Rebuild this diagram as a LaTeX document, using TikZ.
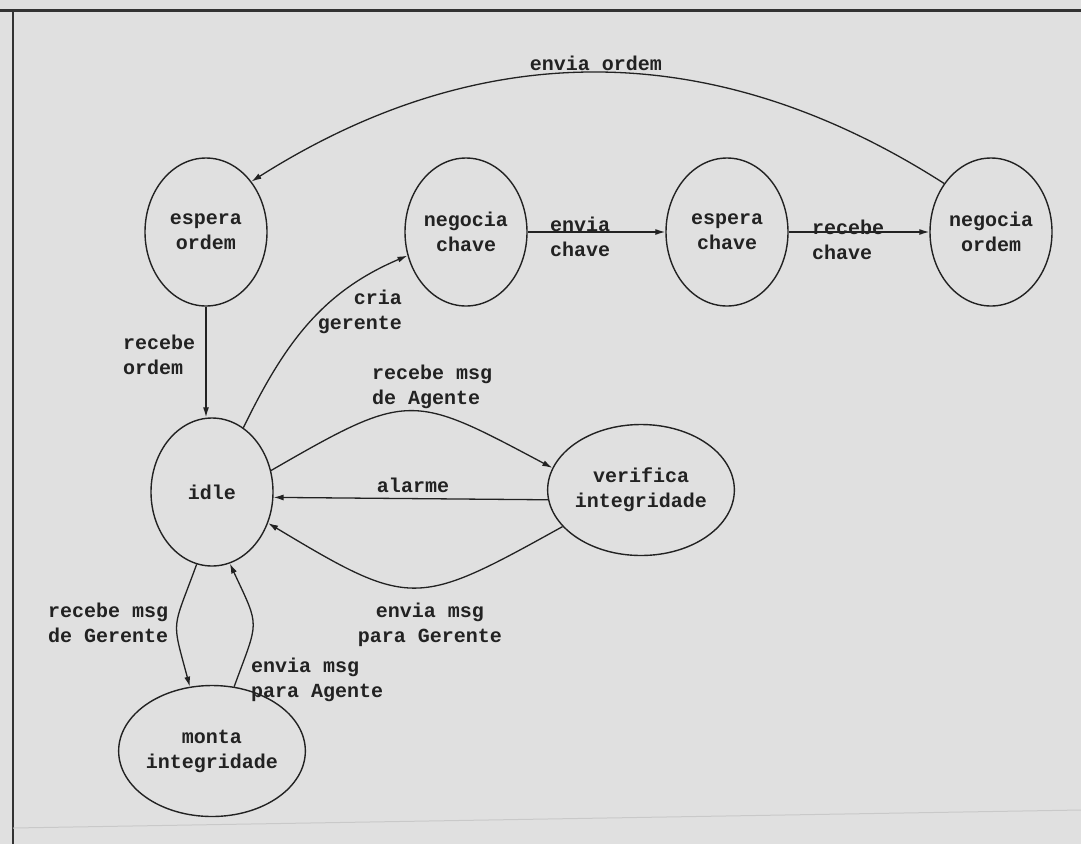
\documentclass[tikz,border=0pt]{standalone}
\usepackage{fontspec}
\newfontfamily\twfont{Liberation Mono}
\usetikzlibrary{shapes.geometric,arrows.meta}
\definecolor{paper}{HTML}{E0E0E0}
\definecolor{ink}{HTML}{222222}
\definecolor{frameink}{HTML}{333333}
\definecolor{scanline}{HTML}{C9C9C9}
\tikzset{
  state/.style={draw=ink, line width=1.4pt, ellipse, inner sep=0pt, align=center,
    minimum width=122pt, minimum height=148pt, text=ink},
  roundstate/.style={state, minimum width=144pt, minimum height=131pt},
  lbl/.style={inner sep=0pt, text=ink},
  arr/.style={draw=ink, line width=1.3pt, -{Latex[length=10pt,width=6pt]}},
  every node/.append style={font=\twfont\bfseries\fontsize{20}{25}\selectfont}
}
\begin{document}
\begin{tikzpicture}[x=1pt,y=1pt]
\useasboundingbox (0,0) rectangle (1081,-844);
\fill[paper] (0,0) rectangle (1081,-844);
% frame
\draw[frameink, line width=3pt] (0,-10) -- (1081,-10);
\draw[frameink, line width=2pt] (13,-10) -- (13,-844);
\draw[scanline, line width=1pt] (13,-828) -- (1081,-810);

% states
\node[state] (eo) at (206,-232) {espera\\ordem};
\node[state] (nc) at (466,-232) {negocia\\chave};
\node[state] (ec) at (727,-232) {espera\\chave};
\node[state] (no) at (991,-232) {negocia\\ordem};
\node[state] (idle) at (212,-492) {idle};
\node[roundstate] (vi) at (641,-490) {verifica\\integridade};
\node[roundstate] (mi) at (212,-751) {monta\\integridade};

% connectors
\draw[arr] (no.134) .. controls (714,-36) and (481,-36) .. (eo.48);
\draw[arr] (nc) -- (ec);
\draw[arr] (ec) -- (no);
\draw[arr] (eo.south) -- (idle.north -| eo.south);
\draw[arr] (idle.64) to[out=64,in=203] (nc.202);
\draw[arr] (idle.20) to[out=30,in=152,looseness=1.45] (vi.166);
\draw[arr] (vi.186) -- (idle.355);
\draw[arr] (vi.205) to[out=209,in=329,looseness=1.45] (idle.331);
\draw[arr] (idle.258) to[out=250,in=105,looseness=1.5] (mi.109);
\draw[arr] (mi.71) to[out=70,in=295,looseness=1.5] (idle.284);

% labels
\node[lbl] (lenviaordem) at (596,-63) {envia ordem};
\node[lbl, anchor=west, align=left] (lenviachave) at (550,-237) {envia\\chave};
\node[lbl, anchor=west, align=left] (lrecebechave) at (812,-240) {recebe\\chave};
\node[lbl, anchor=west, align=left] (lrecebeordem) at (123,-355) {recebe\\ordem};
\node[lbl, anchor=east, align=right] (lcria) at (402,-312) {cria\\gerente};
\node[lbl, anchor=west, align=left] (lagente) at (372,-387) {recebe msg\\de Agente};
\node[lbl] (lalarme) at (413,-485) {alarme};
\node[lbl, align=center] (lgerente) at (430,-625) {envia msg\\para Gerente};
\node[lbl, anchor=west, align=left] (lrgerente) at (48,-623) {recebe msg\\de Gerente};
\node[lbl, anchor=west, align=left] (lpagente) at (251,-680) {envia msg\\para Agente};
\end{tikzpicture}
\end{document}
